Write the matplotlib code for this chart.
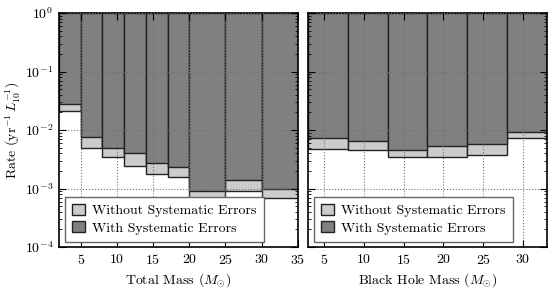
import numpy as np
import matplotlib
matplotlib.use("Agg")
import matplotlib.pyplot as plt
from matplotlib.patches import Patch

plt.rcParams['font.family'] = 'serif'
plt.rcParams['font.serif'] = ['cmr10', 'DejaVu Serif']
plt.rcParams['mathtext.fontset'] = 'cm'
plt.rcParams['axes.unicode_minus'] = False
plt.rcParams['axes.formatter.use_mathtext'] = True
plt.rcParams['font.size'] = 10

# total mass bins (left panel)
tm_edges = [2, 5, 8, 11, 14, 17, 20, 25, 30, 35]
tm_without = [0.0214, 0.0049, 0.0035, 0.0024, 0.0018, 0.0016, 0.0006, 0.0009, 0.00068]
tm_with = [0.028, 0.0076, 0.0049, 0.0040, 0.0027, 0.0023, 0.00092, 0.0014, 0.0010]

# black hole mass bins (right panel)
bh_edges = [3, 8, 13, 18, 23, 28, 33]
bh_without = [0.0048, 0.0045, 0.0035, 0.0035, 0.0038, 0.0074]
bh_with = [0.0072, 0.0065, 0.0046, 0.0053, 0.0058, 0.0094]

ytop = 1.0
light = '#cccccc'
dark = '#808080'
edge = '#222222'

fig = plt.figure(figsize=(5.54, 2.90), dpi=100)
ax1 = fig.add_axes([0.1065, 0.148, 0.431, 0.807])
ax2 = fig.add_axes([0.556, 0.148, 0.431, 0.807])

def panel(ax, edges, wo, wi, xlabel):
    edges = np.array(edges, dtype=float)
    widths = np.diff(edges)
    wo = np.array(wo)
    wi = np.array(wi)
    ax.bar(edges[:-1], ytop - wo, widths, bottom=wo, align='edge',
           color=light, edgecolor=edge, linewidth=1.0, zorder=1)
    ax.bar(edges[:-1], ytop - wi, widths, bottom=wi, align='edge',
           color=dark, edgecolor=edge, linewidth=1.0, zorder=1)
    ax.set_yscale('log')
    ax.set_ylim(1e-4, 1)
    ax.set_xlim(edges[0], edges[-1])
    ax.grid(True, which='major', color='0.45', linestyle=':', linewidth=0.8, zorder=3)
    ax.set_axisbelow(False)
    ax.tick_params(which='both', direction='in', top=True, right=True)
    ax.tick_params(which='major', length=5, pad=4)
    ax.tick_params(which='minor', length=2.5)
    ax.set_xlabel(xlabel, labelpad=3)
    for s in ax.spines.values():
        s.set_linewidth(1.2)
    handles = [Patch(facecolor=light, edgecolor=edge, label='Without Systematic Errors'),
               Patch(facecolor=dark, edgecolor=edge, label='With Systematic Errors')]
    leg = ax.legend(handles=handles, loc='lower left', fancybox=False,
                    handlelength=1.0, handleheight=0.8, borderaxespad=0.4,
                    framealpha=1, edgecolor='0.4', borderpad=0.5,
                    labelspacing=0.3, handletextpad=0.5, fontsize=10)
    leg.get_frame().set_linewidth(1.0)

panel(ax1, tm_edges, tm_without, tm_with, r'Total Mass ($M_{\odot}$)')
ax1.set_xticks([5, 10, 15, 20, 25, 30, 35])
ax1.set_ylabel(r'Rate ($\mathrm{yr}^{-1}\,L_{10}^{-1}$)', labelpad=2)

panel(ax2, bh_edges, bh_without, bh_with, r'Black Hole Mass ($M_{\odot}$)')
ax2.set_xticks([5, 10, 15, 20, 25, 30])
ax2.tick_params(labelleft=False)

fig.savefig('out.png', dpi=100)
